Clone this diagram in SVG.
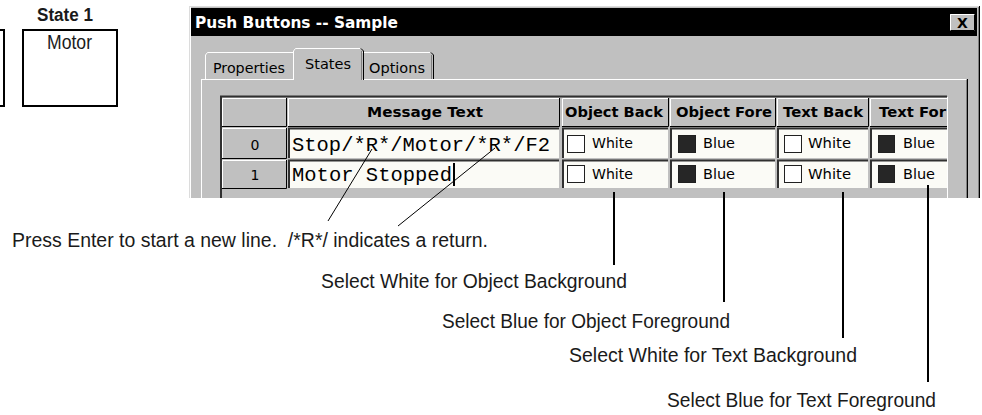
<svg xmlns="http://www.w3.org/2000/svg" width="982" height="415" viewBox="0 0 982 415">
  <style>
    .lbl{font-family:"Liberation Sans",Arial,sans-serif;font-size:20.5px;fill:#1a1a1a}
    .lblb{font-family:"Liberation Sans",Arial,sans-serif;font-size:18px;font-weight:bold;fill:#1a1a1a}
    .ui{font-family:"DejaVu Sans","Liberation Sans",sans-serif;font-size:14px;fill:#000}
    .uib{font-family:"DejaVu Sans","Liberation Sans",sans-serif;font-size:14px;font-weight:bold;fill:#000}
    .mono{font-family:"Liberation Mono","Courier New",monospace;font-size:20.5px;fill:#000}
    .box{fill:#fff;stroke:#000;stroke-width:2}
    .grey{fill:#c0c0c0}
    .cell{fill:#fbfbf6}
    .hi{stroke:#fff;stroke-width:1;fill:none}
    .mid{stroke:#808080;stroke-width:1;fill:none}
    .dk{stroke:#000;stroke-width:1;fill:none}
    .sunk{stroke:#303030;stroke-width:2;fill:none}
    .lead{stroke:#000;stroke-width:2;fill:none}
    .thin{stroke:#000;stroke-width:1;fill:none}
    .swW{fill:#fff;stroke:#202020;stroke-width:1}
    .swB{fill:#262626;stroke:#202020;stroke-width:1}
  </style>

  <!-- state preview boxes -->
  <g id="state-0">
    <rect class="box" x="-10" y="30" width="14" height="76"/>
  </g>
  <g id="state-1">
    <text class="lblb" x="65" y="21" text-anchor="middle" textLength="56" lengthAdjust="spacingAndGlyphs">State 1</text>
    <rect class="box" x="23" y="30" width="94" height="76"/>
    <text class="lbl" x="69.5" y="49" text-anchor="middle" textLength="45" lengthAdjust="spacingAndGlyphs">Motor</text>
  </g>

  <!-- dialog window -->
  <g id="dialog">
    <rect class="grey" x="189" y="6" width="791" height="192"/>
    <line x1="189" y1="6.5" x2="980" y2="6.5" stroke="#dcdcdc"/>
    <line x1="189.5" y1="6" x2="189.5" y2="198" stroke="#dcdcdc"/>
    <line x1="190.5" y1="7" x2="190.5" y2="198" class="hi"/>
    <line x1="979.5" y1="6" x2="979.5" y2="198" class="dk"/>
    <line x1="978.5" y1="7" x2="978.5" y2="198" class="mid"/>
    <rect x="191" y="8" width="786" height="28" fill="#000"/>
    <text class="uib" x="195" y="28" style="fill:#fff;font-size:15px" textLength="203" lengthAdjust="spacingAndGlyphs">Push Buttons -- Sample</text>
    <g id="close-button">
      <rect class="grey" x="950" y="14" width="25" height="17"/>
      <polyline class="hi" points="950.5,30.5 950.5,14.5 974.5,14.5"/>
      <polyline class="dk" points="950.5,30.5 974.5,30.5 974.5,14.5"/>
      <text class="uib" x="962.5" y="28" text-anchor="middle">X</text>
    </g>
  </g>

  <!-- tab panel and tabs -->
  <g id="tabs">
    <rect class="grey" x="201" y="79" width="767" height="119"/>
    <line x1="201" y1="79.5" x2="293" y2="79.5" class="hi"/>
    <line x1="362" y1="79.5" x2="966" y2="79.5" class="hi"/>
    <line x1="201.5" y1="79" x2="201.5" y2="198" class="hi"/>
    <line x1="966.5" y1="80" x2="966.5" y2="198" class="mid"/>
    <line x1="967.5" y1="79" x2="967.5" y2="198" class="dk"/>

    <g id="tab-properties">
      <path class="grey" d="M205,79 V55 L207.5,52.5 H293 V79 Z"/>
      <path class="hi" d="M205.5,79 V55 L207.5,52.5 H293"/>
      <text class="ui" x="213" y="73" textLength="72" lengthAdjust="spacingAndGlyphs">Properties</text>
    </g>
    <g id="tab-options">
      <path class="grey" d="M362,79 V52.5 H430 L432.5,55 V79 Z"/>
      <path class="hi" d="M362,52.5 H430"/>
      <path class="mid" d="M431.5,55 V79"/>
      <path class="dk" d="M431,52.5 L433.5,55 V79"/>
      <text class="ui" x="369" y="73" textLength="56" lengthAdjust="spacingAndGlyphs">Options</text>
    </g>
    <g id="tab-states">
      <path class="grey" d="M293,81 V51 L295.5,48.5 H360 L362.5,51 V81 Z"/>
      <path class="hi" d="M293.5,80 V51 L295.5,48.5 H360"/>
      <path class="mid" d="M361.5,51 V80"/>
      <path class="dk" d="M361,48.5 L363.5,51 V80"/>
      <text class="ui" x="305" y="69" textLength="46" lengthAdjust="spacingAndGlyphs">States</text>
    </g>
  </g>

  <!-- state table -->
  <g id="table">
    <line x1="220" y1="96.5" x2="947" y2="96.5" stroke="#303030" stroke-width="2"/>
    <line x1="221" y1="96" x2="221" y2="198" stroke="#303030" stroke-width="2"/>
    <line x1="947.5" y1="97" x2="947.5" y2="198" class="hi"/>

    <!-- header row -->
    <g id="header-row">
      <rect class="grey" x="222" y="98" width="64" height="28"/>
      <polyline class="hi" points="222.5,126 222.5,98.5 286,98.5"/>
      <polyline class="dk" points="222,126.5 286.5,126.5 286.5,98" stroke-width="2"/>

      <rect class="grey" x="288" y="98" width="271" height="28"/>
      <polyline class="hi" points="288.5,126 288.5,98.5 559,98.5"/>
      <polyline class="dk" points="288,126.5 559.5,126.5 559.5,98" stroke-width="2"/>
      <text class="uib" x="367" y="117" textLength="116" lengthAdjust="spacingAndGlyphs">Message Text</text>

      <rect class="grey" x="562" y="98" width="106" height="28"/>
      <polyline class="hi" points="562.5,126 562.5,98.5 668,98.5"/>
      <polyline class="dk" points="562,126.5 668.5,126.5 668.5,98" stroke-width="2"/>
      <text class="uib" x="565" y="117" textLength="98" lengthAdjust="spacingAndGlyphs">Object Back</text>

      <rect class="grey" x="670" y="98" width="105" height="28"/>
      <polyline class="hi" points="670.5,126 670.5,98.5 775,98.5"/>
      <polyline class="dk" points="670,126.5 775.5,126.5 775.5,98" stroke-width="2"/>
      <text class="uib" x="676" y="117" textLength="96" lengthAdjust="spacingAndGlyphs">Object Fore</text>

      <rect class="grey" x="777" y="98" width="91" height="28"/>
      <polyline class="hi" points="777.5,126 777.5,98.5 868,98.5"/>
      <polyline class="dk" points="777,126.5 868.5,126.5 868.5,98" stroke-width="2"/>
      <text class="uib" x="783" y="117" textLength="80" lengthAdjust="spacingAndGlyphs">Text Back</text>

      <rect class="grey" x="870" y="98" width="77" height="28"/>
      <polyline class="hi" points="870.5,126 870.5,98.5 947,98.5"/>
      <line x1="870" y1="126.5" x2="947" y2="126.5" class="dk" stroke-width="2"/>
      <text class="uib" x="879" y="117" textLength="67" lengthAdjust="spacingAndGlyphs">Text For</text>
    </g>

    <!-- row 0 -->
    <g id="row-0">
      <rect class="grey" x="222" y="128" width="64" height="30"/>
      <polyline class="hi" points="222.5,158 222.5,128.5 286,128.5"/>
      <polyline class="dk" points="222,158.5 286.5,158.5 286.5,128" stroke-width="2"/>
      <text class="ui" x="255" y="150" text-anchor="middle">0</text>

      <rect class="cell" x="288" y="128" width="271" height="30"/>
      <polyline class="sunk" points="289,158 289,128.5 559,128.5"/>
      <text class="mono" x="292" y="151" textLength="258" lengthAdjust="spacingAndGlyphs">Stop/*R*/Motor/*R*/F2</text>

      <rect class="cell" x="562" y="128" width="106" height="30"/>
      <polyline class="sunk" points="563,158 563,128.5 668,128.5"/>
      <rect class="swW" x="567.5" y="135.5" width="17" height="17"/>
      <text class="ui" x="592" y="148" textLength="41" lengthAdjust="spacingAndGlyphs">White</text>

      <rect class="cell" x="670" y="128" width="105" height="30"/>
      <polyline class="sunk" points="671,158 671,128.5 775,128.5"/>
      <rect class="swB" x="678.5" y="135.5" width="17" height="17"/>
      <text class="ui" x="703" y="148" textLength="32" lengthAdjust="spacingAndGlyphs">Blue</text>

      <rect class="cell" x="777" y="128" width="91" height="30"/>
      <polyline class="sunk" points="778,158 778,128.5 868,128.5"/>
      <rect class="swW" x="784.5" y="135.5" width="17" height="17"/>
      <text class="ui" x="808" y="148" textLength="43" lengthAdjust="spacingAndGlyphs">White</text>

      <rect class="cell" x="870" y="128" width="77" height="30"/>
      <polyline class="sunk" points="871,158 871,128.5 947,128.5"/>
      <rect class="swB" x="878.5" y="135.5" width="16" height="17"/>
      <text class="ui" x="903" y="148" textLength="32" lengthAdjust="spacingAndGlyphs">Blue</text>
    </g>

    <!-- row 1 -->
    <g id="row-1">
      <rect class="grey" x="222" y="160" width="64" height="28"/>
      <polyline class="hi" points="222.5,188 222.5,160.5 286,160.5"/>
      <polyline class="dk" points="222,188.5 286.5,188.5 286.5,160" stroke-width="2"/>
      <text class="ui" x="255" y="180" text-anchor="middle">1</text>

      <rect class="cell" x="288" y="160" width="271" height="28"/>
      <polyline class="sunk" points="289,188 289,160.5 559,160.5"/>
      <text class="mono" x="292" y="181" textLength="160" lengthAdjust="spacingAndGlyphs">Motor Stopped</text>
      <rect x="453" y="163" width="2" height="23" fill="#000"/>

      <rect class="cell" x="562" y="160" width="106" height="28"/>
      <polyline class="sunk" points="563,188 563,160.5 668,160.5"/>
      <rect class="swW" x="567.5" y="165.5" width="17" height="17"/>
      <text class="ui" x="592" y="179" textLength="41" lengthAdjust="spacingAndGlyphs">White</text>

      <rect class="cell" x="670" y="160" width="105" height="28"/>
      <polyline class="sunk" points="671,188 671,160.5 775,160.5"/>
      <rect class="swB" x="678.5" y="165.5" width="17" height="17"/>
      <text class="ui" x="703" y="179" textLength="32" lengthAdjust="spacingAndGlyphs">Blue</text>

      <rect class="cell" x="777" y="160" width="91" height="28"/>
      <polyline class="sunk" points="778,188 778,160.5 868,160.5"/>
      <rect class="swW" x="784.5" y="165.5" width="17" height="17"/>
      <text class="ui" x="808" y="179" textLength="43" lengthAdjust="spacingAndGlyphs">White</text>

      <rect class="cell" x="870" y="160" width="77" height="28"/>
      <polyline class="sunk" points="871,188 871,160.5 947,160.5"/>
      <rect class="swB" x="878.5" y="165.5" width="16" height="17"/>
      <text class="ui" x="903" y="179" textLength="32" lengthAdjust="spacingAndGlyphs">Blue</text>
    </g>
  </g>

  <!-- callout leaders -->
  <g id="connectors">
    <line class="thin" x1="328" y1="221" x2="372" y2="149"/>
    <line class="thin" x1="398" y1="226" x2="495" y2="148"/>
    <line class="lead" x1="614" y1="192" x2="614" y2="265"/>
    <line class="lead" x1="724" y1="192" x2="724" y2="302"/>
    <line class="lead" x1="843" y1="192" x2="843" y2="338"/>
    <line class="lead" x1="928" y1="185" x2="928" y2="382"/>
  </g>

  <!-- callout labels -->
  <g id="note-return">
    <text class="lbl" x="12" y="247" xml:space="preserve" textLength="476" lengthAdjust="spacingAndGlyphs">Press Enter to start a new line.  /*R*/ indicates a return.</text>
  </g>
  <g id="note-object-back">
    <text class="lbl" x="321" y="288" textLength="306" lengthAdjust="spacingAndGlyphs">Select White for Object Background</text>
  </g>
  <g id="note-object-fore">
    <text class="lbl" x="442" y="328" textLength="288" lengthAdjust="spacingAndGlyphs">Select Blue for Object Foreground</text>
  </g>
  <g id="note-text-back">
    <text class="lbl" x="569" y="362" textLength="288" lengthAdjust="spacingAndGlyphs">Select White for Text Background</text>
  </g>
  <g id="note-text-fore">
    <text class="lbl" x="667" y="407" textLength="269" lengthAdjust="spacingAndGlyphs">Select Blue for Text Foreground</text>
  </g>
</svg>
